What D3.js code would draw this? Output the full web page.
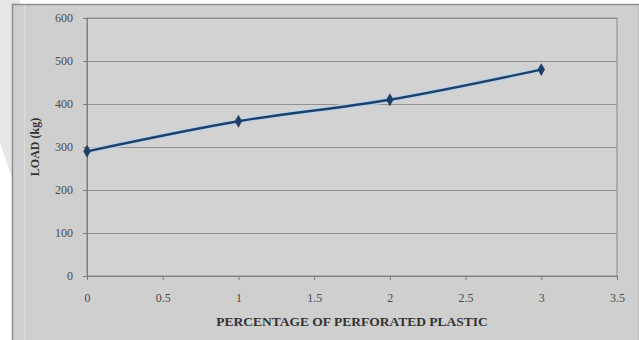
<!DOCTYPE html>
<html>
<head>
<meta charset="utf-8">
<script src="https://cdn.jsdelivr.net/npm/d3@7"></script>
<style>
  html, body { margin: 0; padding: 0; background: #ffffff; }
  svg { display: block; }
</style>
</head>
<body>
<svg id="chart" width="639" height="340"></svg>
<script>
// Load carried versus percentage of perforated plastic
const percent = [0, 1, 2, 3];
const load = [290, 360, 410, 480];
const xTicks = [0, 0.5, 1, 1.5, 2, 2.5, 3, 3.5];
const yTicks = [0, 100, 200, 300, 400, 500, 600];

const svg = d3.select("#chart");
const W = 639, H = 340;
const margin = { left: 87, right: 22, top: 18, bottom: 64 };
const iw = W - margin.left - margin.right;
const ih = H - margin.top - margin.bottom;

// faint decorative shapes on the page behind the chart frame
svg.append("path")
  .attr("d", "M-40,30 A60,60 0 0 1 20,-20 L20,200 Z")
  .attr("fill", "#e6e6e6");

// chart frame
svg.append("rect")
  .attr("x", 12.5).attr("y", 4.5)
  .attr("width", W - 12).attr("height", H)
  .attr("fill", "#cfcfcf")
  .attr("stroke", "#8e8e8e").attr("stroke-width", 1.5);
svg.append("line")
  .attr("x1", 24.5).attr("x2", 24.5).attr("y1", 5).attr("y2", H)
  .attr("stroke", "#dcdcdc");

const g = svg.append("g").attr("transform", `translate(${margin.left},${margin.top})`);

const x = d3.scaleLinear().domain([0, 3.5]).range([0, iw]);
const y = d3.scaleLinear().domain([0, 600]).range([ih, 0]);

// plot area
g.append("rect")
  .attr("width", iw).attr("height", ih)
  .attr("fill", "#d2d2d2")
  .attr("stroke", "#8a8a8a");

// horizontal gridlines
g.append("g")
  .selectAll("line")
  .data(yTicks.filter(d => d > 0))
  .join("line")
  .attr("x1", 0).attr("x2", iw)
  .attr("y1", d => Math.round(y(d)) + 0.5).attr("y2", d => Math.round(y(d)) + 0.5)
  .attr("stroke", "#929292").attr("stroke-width", 1.2);

const tickFont = "'Liberation Serif', 'DejaVu Serif', serif";

// y axis
const yAxis = g.append("g")
  .call(d3.axisLeft(y).tickValues(yTicks).tickSize(4).tickPadding(10));
yAxis.select(".domain").attr("stroke", "#7d7d7d");
yAxis.selectAll(".tick line").attr("stroke", "#7d7d7d");
yAxis.selectAll("text")
  .attr("font-family", tickFont).attr("font-size", 12).attr("fill", "#4a4a4a");

// x axis
const xAxis = g.append("g")
  .attr("transform", `translate(0,${ih})`)
  .call(d3.axisBottom(x).tickValues(xTicks).tickSize(4).tickPadding(13)
    .tickFormat(d3.format("")));
xAxis.select(".domain").attr("stroke", "#7d7d7d");
xAxis.selectAll(".tick line").attr("stroke", "#7d7d7d");
xAxis.selectAll("text")
  .attr("font-family", tickFont).attr("font-size", 12).attr("fill", "#4a4a4a");

// axis titles
svg.append("text")
  .attr("transform", `translate(39,${margin.top + ih / 2}) rotate(-90)`)
  .attr("text-anchor", "middle")
  .attr("font-family", tickFont).attr("font-size", 12).attr("font-weight", "bold")
  .attr("fill", "#333")
  .text("LOAD (kg)");

svg.append("text")
  .attr("x", margin.left + iw / 2).attr("y", 326)
  .attr("text-anchor", "middle")
  .attr("font-family", tickFont).attr("font-size", 13.5).attr("font-weight", "bold")
  .attr("fill", "#333")
  .text("PERCENTAGE OF PERFORATED PLASTIC");

// series
const pts = percent.map((p, i) => [p, load[i]]);
const line = d3.line().x(d => x(d[0])).y(d => y(d[1])).curve(d3.curveMonotoneX);

g.append("path")
  .datum(pts)
  .attr("d", line)
  .attr("fill", "none")
  .attr("stroke", "#bcd3ea").attr("stroke-width", 6).attr("opacity", 0.8);

g.append("path")
  .datum(pts)
  .attr("d", line)
  .attr("fill", "none")
  .attr("stroke", "#1f4168").attr("stroke-width", 2.4);

g.append("g")
  .selectAll("path")
  .data(pts)
  .join("path")
  .attr("transform", d => `translate(${x(d[0])},${y(d[1])})`)
  .attr("d", d3.symbol(d3.symbolDiamond, 48))
  .attr("fill", "#1f3f66");
</script>
</body>
</html>
